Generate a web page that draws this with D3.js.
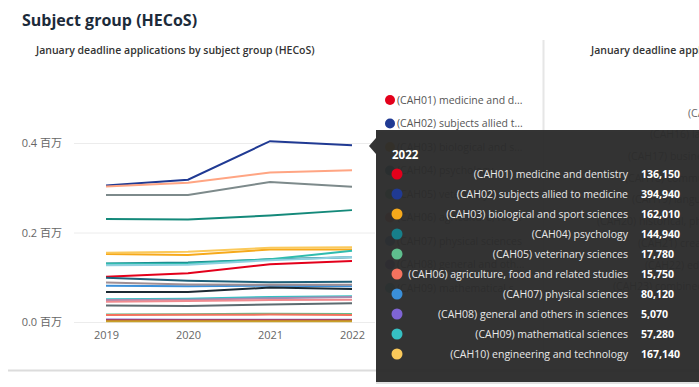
<!DOCTYPE html>
<html>
<head>
<meta charset="utf-8">
<script src="https://cdn.jsdelivr.net/npm/d3@7"></script>
<style>
  body { margin: 0; background: #fff; font-family: "Open Sans", "Noto Sans", sans-serif; }
  svg { display: block; }
</style>
</head>
<body>
<svg id="chart"></svg>
<script>
// --- data ---
const years = ["2019", "2020", "2021", "2022"];

const subjects = [
  "(CAH01) medicine and dentistry",
  "(CAH02) subjects allied to medicine",
  "(CAH03) biological and sport sciences",
  "(CAH04) psychology",
  "(CAH05) veterinary sciences",
  "(CAH06) agriculture, food and related studies",
  "(CAH07) physical sciences",
  "(CAH08) general and others in sciences",
  "(CAH09) mathematical sciences",
  "(CAH10) engineering and technology",
  "(CAH11) computing",
  "(CAH12) geographical and environmental studies",
  "(CAH13) architecture, building and planning",
  "(CAH14) humanities and liberal arts",
  "(CAH15) social sciences",
  "(CAH16) law",
  "(CAH17) business and management",
  "(CAH18) communications and media",
  "(CAH19) language and area studies",
  "(CAH20) historical, philosophical and religious studies",
  "(CAH21) creative arts and design",
  "(CAH22) education and teaching",
  "(CAH23) combined and general studies"
];

const subjectColors = [
  "#e3001b", "#203a93", "#f6a91b", "#177f8a", "#5fbf8e", "#f4725e",
  "#3a8fd9", "#7f64d4", "#36c0c3", "#fbc95a", "#2fbcae", "#5d6b70",
  "#a78ab0", "#b2393f", "#7d8a8b", "#8fd0e0", "#ffa583", "#a08f94",
  "#1b2a33", "#1f6079", "#14897a", "#f08a8f", "#c8a02a"
];

// applications per year, 2019..2022
const applications = [
  [101000, 109000, 129000, 136150],
  [305000, 318000, 404000, 394940],
  [152000, 150000, 162000, 162010],
  [131000, 133000, 140000, 144940],
  [17000, 17500, 18500, 17780],
  [15500, 16000, 16500, 15750],
  [81000, 80000, 81000, 80120],
  [5500, 5200, 5300, 5070],
  [51000, 52000, 56000, 57280],
  [155000, 157000, 166000, 167140],
  [130000, 131000, 140000, 159000],
  [37000, 36000, 39000, 42000],
  [49000, 50000, 53000, 56000],
  [4000, 4000, 4000, 4000],
  [284000, 284000, 313000, 302000],
  [127000, 128000, 138000, 145000],
  [303000, 311000, 334000, 339000],
  [88000, 84000, 83000, 83000],
  [67000, 67000, 77000, 74000],
  [99000, 92000, 89000, 90000],
  [230000, 229000, 238000, 250000],
  [45000, 47000, 49000, 50000],
  [1500, 1500, 1500, 1500]
];

const yTicks = [0, 200000, 400000];
const tooltipYear = "2022";
const tooltipCount = 10;

// labels of the neighbouring panel, only partly visible
const otherPanelLabels = subjects.slice(14);
const otherPanelX = [688, 650, 628, 625, 632, 597, 638, 645, 613];

// --- layout ---
const W = 699, H = 387;
const svg = d3.select("#chart").attr("width", W).attr("height", H);

const x = d3.scalePoint().domain(years).range([106, 352]);
const y = d3.scaleLinear().domain([0, 400000]).range([322, 143]);

// page title
svg.append("text")
  .attr("x", 22).attr("y", 26)
  .attr("font-size", "16px").attr("font-weight", 700)
  .attr("fill", "#1c2b3a")
  .text("Subject group (HECoS)");

// panel subtitles
svg.append("text")
  .attr("x", 36).attr("y", 54)
  .attr("font-size", "10.5px").attr("font-weight", 600)
  .attr("fill", "#333")
  .text("January deadline applications by subject group (HECoS)");

svg.append("text")
  .attr("x", 591).attr("y", 54)
  .attr("font-size", "10.5px").attr("font-weight", 600)
  .attr("fill", "#333")
  .text("January deadline applications by subject group (HECoS)");

// panel borders
svg.append("line")
  .attr("x1", 543.5).attr("x2", 543.5).attr("y1", 40).attr("y2", 370)
  .attr("stroke", "#e6e6e6").attr("stroke-width", 2);
svg.append("line")
  .attr("x1", 8).attr("x2", 699).attr("y1", 370.5).attr("y2", 370.5)
  .attr("stroke", "#dcdcdc").attr("stroke-width", 2);

// y axis
const yAxis = svg.append("g")
  .attr("transform", "translate(74,0)")
  .call(d3.axisLeft(y).tickValues(yTicks).tickSize(-301).tickPadding(12)
    .tickFormat(d => d3.format(".1f")(d / 1e6) + " 百万"));
yAxis.select(".domain").remove();
yAxis.selectAll(".tick line").attr("stroke", "#ececec");
yAxis.selectAll(".tick text")
  .attr("font-size", "11px").attr("fill", "#666")
  .attr("font-family", "'Open Sans', 'Noto Sans CJK SC', sans-serif");

// x axis
const xAxis = svg.append("g")
  .attr("transform", "translate(0,322)")
  .call(d3.axisBottom(x).tickSize(0).tickPadding(9));
xAxis.select(".domain").remove();
xAxis.selectAll(".tick text")
  .attr("font-size", "11px").attr("fill", "#666")
  .attr("font-family", "'Open Sans', sans-serif");

// lines
const line = d3.line()
  .x((d, i) => x(years[i]))
  .y(d => y(d));

svg.append("g")
  .selectAll("path")
  .data(applications)
  .join("path")
  .attr("fill", "none")
  .attr("stroke", (d, i) => subjectColors[i])
  .attr("stroke-width", 2)
  .attr("d", line);

// legend (left panel)
const legend = svg.append("g")
  .selectAll("g")
  .data(subjects.slice(0, 9))
  .join("g")
  .attr("transform", (d, i) => `translate(390,${100 + i * 23.5})`);

legend.append("circle")
  .attr("r", 5)
  .attr("fill", (d, i) => subjectColors[i]);

legend.append("text")
  .attr("x", 7).attr("dy", "0.35em")
  .attr("font-size", "10.5px").attr("fill", "#555")
  .text(d => d)
  .each(function (d) {
    const el = d3.select(this);
    let s = d;
    if (this.getComputedTextLength() <= 130) return;
    while (s.length > 3) {
      s = s.slice(0, -1);
      el.text(s + "...");
      if (this.getComputedTextLength() <= 130) break;
    }
  });

// other panel labels (behind tooltip)
svg.append("g")
  .selectAll("text")
  .data(otherPanelLabels)
  .join("text")
  .attr("x", (d, i) => otherPanelX[i])
  .attr("y", (d, i) => 113 + i * 21.7)
  .attr("dy", "0.35em")
  .attr("font-size", "10.5px").attr("fill", "#666")
  .text(d => d);

// tooltip
const tipX = 376, tipY = 130, tipW = 330, tipH = 252;
const tip = svg.append("g");

tip.append("rect")
  .attr("x", tipX).attr("y", tipY + 2)
  .attr("width", tipW).attr("height", tipH)
  .attr("fill", "rgba(0,0,0,0.12)");

tip.append("path")
  .attr("d", `M${tipX},${tipY} h${tipW} v${tipH} h${-tipW} v${-(tipH - 24)} l-7,-8 l7,-8 Z`)
  .attr("fill", "rgba(44,44,44,0.96)");

tip.append("text")
  .attr("x", 392).attr("y", 159)
  .attr("font-size", "11.5px").attr("font-weight", 700)
  .attr("fill", "#fff")
  .text(tooltipYear);

const yearIdx = years.indexOf(tooltipYear);
const rows = tip.selectAll(".row")
  .data(d3.range(tooltipCount))
  .join("g")
  .attr("class", "row")
  .attr("transform", i => `translate(0,${174 + i * 20})`);

rows.append("circle")
  .attr("cx", 397).attr("r", 5.5)
  .attr("fill", i => subjectColors[i]);

rows.append("text")
  .attr("x", 628).attr("dy", "0.35em")
  .attr("text-anchor", "end")
  .attr("font-size", "10.5px").attr("fill", "#e8e8e8")
  .text(i => subjects[i]);

rows.append("text")
  .attr("x", 641).attr("dy", "0.35em")
  .attr("font-size", "10.5px").attr("font-weight", 700)
  .attr("fill", "#fff")
  .text(i => d3.format(",")(applications[i][yearIdx]));
</script>
</body>
</html>
